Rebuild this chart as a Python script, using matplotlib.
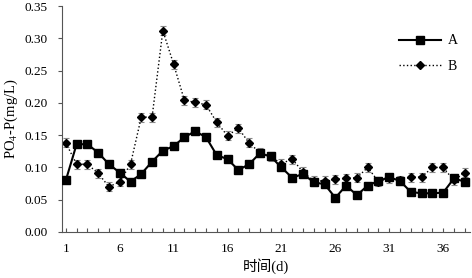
import matplotlib
matplotlib.use('Agg')
import matplotlib.pyplot as plt
from matplotlib.ticker import MultipleLocator, FixedLocator
from matplotlib.lines import Line2D

days = list(range(1, 39))
a_vals = [0.080, 0.136, 0.136, 0.123, 0.105, 0.092, 0.078, 0.090, 0.109, 0.126,
          0.133, 0.147, 0.156, 0.147, 0.119, 0.113, 0.096, 0.105, 0.122, 0.117,
          0.100, 0.084, 0.090, 0.077, 0.074, 0.053, 0.072, 0.057, 0.072, 0.079,
          0.085, 0.079, 0.062, 0.060, 0.060, 0.061, 0.083, 0.078]
b_vals = [0.138, 0.105, 0.105, 0.091, 0.070, 0.078, 0.105, 0.178, 0.178, 0.312,
          0.260, 0.204, 0.201, 0.197, 0.170, 0.149, 0.161, 0.138, 0.123, 0.117,
          0.106, 0.113, 0.093, 0.079, 0.079, 0.082, 0.083, 0.084, 0.100, 0.078,
          0.083, 0.080, 0.085, 0.085, 0.100, 0.100, 0.080, 0.092]
b_err = [0.007] * 38
xtick_labels = ['1', '6', '11', '16', '21', '26', '31', '36']

plt.rcParams['font.family'] = ['Liberation Serif', 'Noto Sans CJK SC']
plt.rcParams['mathtext.fontset'] = 'stix'

fig = plt.figure(figsize=(4.72, 2.78), dpi=100)
ax = fig.add_axes([0.131, 0.1655, 0.865, 0.8125])

ax.plot(days, a_vals, color='black', lw=1.5, marker='s', ms=6, zorder=3)
ax.errorbar(days, b_vals, yerr=b_err, color='black', lw=1, ls=':', marker='D',
            ms=4.5, ecolor='#888888', elinewidth=0.8, capsize=2, capthick=0.8,
            zorder=2)

ax.set_xlim(0.63, 38.5)
ax.set_ylim(0, 0.35)
ax.yaxis.set_major_locator(MultipleLocator(0.05))
ax.yaxis.set_major_formatter(matplotlib.ticker.FormatStrFormatter('%.2f'))
ax.xaxis.set_major_locator(FixedLocator([int(t) for t in xtick_labels]))
ax.set_xticklabels(xtick_labels)
ax.xaxis.set_minor_locator(MultipleLocator(1))

for s in ['top', 'right']:
    ax.spines[s].set_visible(False)
for s in ['left', 'bottom']:
    ax.spines[s].set_color('#555555')
    ax.spines[s].set_linewidth(0.8)

ax.tick_params(axis='x', which='both', direction='in', length=3, width=0.8,
               color='#555555', labelsize=9.5, pad=8)
ax.tick_params(axis='y', which='major', direction='out', length=3, width=0.8,
               color='#555555', labelsize=9.5, pad=7)

ax.set_ylabel('PO$_4$-P(mg/L)', fontsize=10.5, labelpad=3)
ax.set_xlabel('时间(d)', fontsize=10.5, labelpad=2)

handles = [Line2D([], [], color='black', lw=1.5, marker='s', ms=6),
           Line2D([], [], color='black', lw=1, ls=':', marker='D', ms=4.5)]
ax.legend(handles, ['A', 'B'], loc='upper right', bbox_to_anchor=(1.0, 0.93),
          frameon=False, fontsize=10, handlelength=3, labelspacing=0.9,
          handletextpad=0.5)

fig.savefig('out.png', dpi=100)
